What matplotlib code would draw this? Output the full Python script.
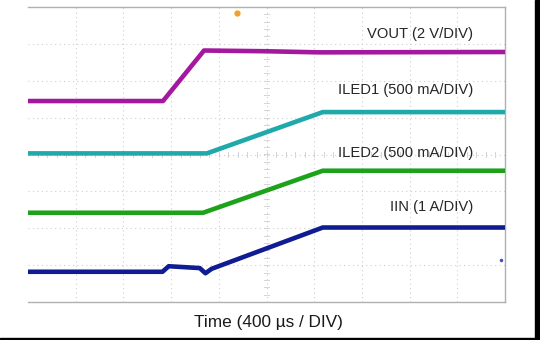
import matplotlib
matplotlib.use("Agg")
import matplotlib.pyplot as plt
from matplotlib.patches import Rectangle

plt.rcParams['font.family'] = ['Liberation Sans', 'DejaVu Sans']

# time in divisions (10 div), amplitude in divisions (8 div)
vout_t = [0, 2.83, 3.69, 5.0, 6.1, 10]
vout_v = [5.45, 5.45, 6.82, 6.80, 6.77, 6.78]

iled1_t = [0, 3.75, 6.18, 10]
iled1_v = [4.03, 4.03, 5.15, 5.15]

iled2_t = [0, 3.67, 6.18, 10]
iled2_v = [2.42, 2.42, 3.56, 3.56]

iin_t = [0, 2.82, 2.95, 3.6, 3.72, 3.85, 6.18, 10]
iin_v = [0.82, 0.82, 0.97, 0.92, 0.78, 0.90, 2.02, 2.02]

traces = [
    (vout_t, vout_v, '#a3189f', "VOUT (2 V/DIV)", 7.26),
    (iled1_t, iled1_v, '#1fa9aa', "ILED1 (500 mA/DIV)", 5.75),
    (iled2_t, iled2_v, '#1ea21c', "ILED2 (500 mA/DIV)", 4.04),
    (iin_t, iin_v, '#101c92', "IIN (1 A/DIV)", 2.57),
]

fig = plt.figure(figsize=(5.4, 3.4), dpi=100)
ax = fig.add_axes([28 / 540, 38 / 340, 477 / 540, 295 / 340])
ax.set_xlim(0, 10)
ax.set_ylim(0, 8)

# scope graticule
for i in range(1, 10):
    ax.axvline(i, color='#cfcfcf', lw=0.8, ls=(0, (1, 3)), zorder=0)
for j in range(1, 8):
    ax.axhline(j, color='#cfcfcf', lw=0.8, ls=(0, (1, 3)), zorder=0)
k = 0.2
while k < 10:
    ax.plot([k, k], [3.94, 4.06], color='#d4d4d4', lw=0.7, zorder=0)
    k += 0.2
k = 0.2
while k < 8:
    ax.plot([4.94, 5.06], [k, k], color='#d4d4d4', lw=0.7, zorder=0)
    k += 0.2

for s in ['top', 'right', 'bottom']:
    ax.spines[s].set_color('#b0b0b0')
    ax.spines[s].set_linewidth(1.0)
ax.spines['left'].set_visible(False)
ax.set_xticks([])
ax.set_yticks([])

for t, v, c, label, ly in traces:
    ax.plot(t, v, color=c, lw=3.3, solid_capstyle='butt', zorder=3)
    ax.text(9.33, ly, label, ha='right', va='center', fontsize=10.6,
            color='#262626', zorder=4)

ax.plot([4.38], [7.83], 'o', color='#f0a030', ms=3.5, zorder=4)
ax.plot([9.92], [1.14], 'o', color='#4050c0', ms=1.5, zorder=4)

fig.text(268 / 540, 1 - 323 / 340, "Time (400 \u00b5s / DIV)", ha='center',
         va='center', fontsize=12.4, color='#1a1a1a')

# black edge strips of the screenshot
fig.patches.append(Rectangle((535 / 540, 0), 5 / 540, 1, transform=fig.transFigure,
                             color='black', zorder=10))
fig.patches.append(Rectangle((0, 0), 1, 2.5 / 340, transform=fig.transFigure,
                             color='black', zorder=10))

fig.savefig("out.png", dpi=100)
